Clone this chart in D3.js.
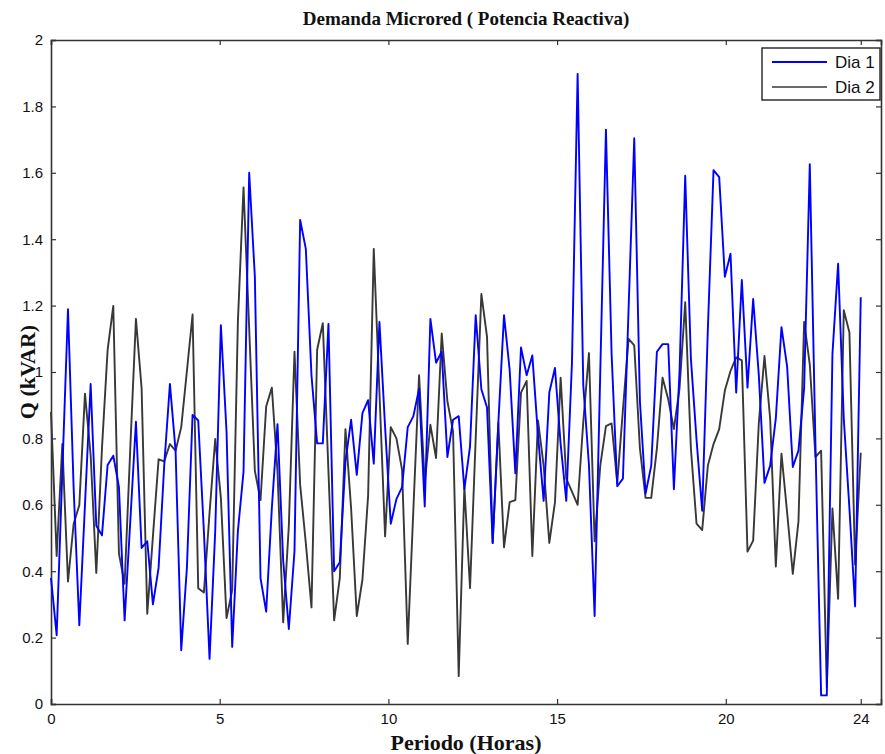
<!DOCTYPE html>
<html>
<head>
<meta charset="utf-8">
<script src="https://cdn.jsdelivr.net/npm/d3@7"></script>
<style>
body{margin:0;background:#fff;}
.axis text{font-family:"Liberation Sans",Arial,sans-serif;font-size:15px;fill:#111;}
.axis path,.axis line{stroke:#333;}
.label{font-family:"Liberation Serif","Times New Roman",serif;font-weight:bold;font-size:15px;fill:#111;}
</style>
</head>
<body>
<div id="chart"></div>
<script>
//tick labels
let xTicks=[0,5,10,15,20,24];
let yTicks=[0,0.2,0.4,0.6,0.8,1,1.2,1.4,1.6,1.8,2];
let seriesNames=[`Dia 1`,`Dia 2`];
//Q (kVAR) every step
let dia1=[0.38,0.207,0.70,1.189,0.65,0.237,0.60,0.964,0.537,0.508,
0.72,0.748,0.653,0.252,0.55,0.85,0.47,0.49,0.30,0.41,
0.72,0.964,0.763,0.162,0.41,0.871,0.854,0.52,0.136,0.52,
1.141,0.82,0.172,0.52,0.70,1.60,1.287,0.379,0.278,0.59,
0.843,0.433,0.226,0.46,1.458,1.371,0.99,0.785,0.785,1.145,
0.40,0.427,0.73,0.856,0.69,0.876,0.915,0.724,1.151,0.834,
0.543,0.617,0.653,0.834,0.867,0.95,0.595,1.16,1.028,1.061,
0.744,0.856,0.867,0.647,0.776,1.171,0.948,0.893,0.485,0.847,
1.171,1.006,0.695,1.074,0.99,1.05,0.81,0.612,0.938,1.012,
0.783,0.612,1.028,1.898,0.96,0.72,0.265,1.0,1.73,1.054,
0.656,0.679,1.19,1.704,0.912,0.634,0.718,1.061,1.084,1.084,
0.647,1.003,1.591,1.041,0.796,0.582,1.13,1.608,1.587,1.287,
1.356,0.938,1.277,0.953,1.22,0.99,0.666,0.718,0.86,1.135,
1.016,0.714,0.763,0.951,1.626,0.78,0.026,0.026,1.054,1.326,
0.86,0.589,0.294,1.225];
let dia2=[0.88,0.446,0.783,0.369,0.543,0.599,0.935,0.75,0.395,0.77,
1.067,1.199,0.453,0.362,0.77,1.16,0.951,0.272,0.505,0.737,
0.731,0.783,0.763,0.834,1.003,1.173,0.349,0.336,0.576,0.798,
0.621,0.259,0.343,1.15,1.556,1.13,0.702,0.614,0.896,0.953,
0.70,0.246,0.537,1.061,0.66,0.485,0.291,1.067,1.147,0.70,
0.252,0.379,0.828,0.589,0.265,0.375,0.627,1.371,0.94,0.505,
0.834,0.80,0.705,0.181,0.589,0.99,0.666,0.841,0.741,1.116,
0.912,0.821,0.084,0.653,0.349,0.80,1.235,1.106,0.485,0.847,
0.472,0.608,0.614,0.938,0.973,0.446,0.854,0.718,0.485,0.608,
0.983,0.679,0.64,0.60,0.85,1.057,0.49,0.718,0.837,0.845,
0.666,0.886,1.10,1.08,0.77,0.621,0.621,0.77,0.983,0.918,
0.828,0.951,1.21,0.77,0.543,0.524,0.718,0.783,0.828,0.944,
1.003,1.044,1.035,0.459,0.492,0.847,1.048,0.86,0.414,0.754,
0.576,0.392,0.55,1.151,1.022,0.744,0.763,0.05,0.589,0.317,
1.186,1.119,0.42,0.757];

let format={width:885,height:754,margin:{top:40,right:4,bottom:50,left:51}};
let width=format.width-format.margin.left-format.margin.right;
let height=format.height-format.margin.top-format.margin.bottom;

let svg=d3.select(`#chart`).append(`svg`)
    .attr(`width`,format.width)
    .attr(`height`,format.height);
let graph=svg.append(`g`)
    .attr(`transform`,`translate(${format.margin.left},${format.margin.top})`);

let x=d3.scaleLinear().domain([0,24.6]).range([0,width]);
let y=d3.scaleLinear().domain([0,2]).range([height,0]);

//time of each step, 0..24 h
let hours=dia1.map((d,i)=>i*24/(dia1.length-1));

//axes with inward ticks, mirrored on top and right
graph.append(`g`).attr(`class`,`axis`)
    .attr(`transform`,`translate(0,${height})`)
    .call(d3.axisBottom(x).tickValues(xTicks).tickSize(-5).tickPadding(9).tickFormat(d3.format(`d`)));
graph.append(`g`).attr(`class`,`axis`)
    .call(d3.axisTop(x).tickValues(xTicks).tickSize(-5).tickFormat(``));
graph.append(`g`).attr(`class`,`axis`)
    .call(d3.axisLeft(y).tickValues(yTicks).tickSize(-5).tickPadding(8).tickFormat(d=>d3.format(`~g`)(d)));
graph.append(`g`).attr(`class`,`axis`)
    .attr(`transform`,`translate(${width},0)`)
    .call(d3.axisRight(y).tickValues(yTicks).tickSize(-5).tickFormat(``));
graph.selectAll(`.axis path`).attr(`stroke-width`,1.6);
graph.selectAll(`.axis line`).attr(`stroke-width`,1.2);

let valueline=d3.line()
    .x((d,i)=>x(hours[i]))
    .y(d=>y(d));

graph.append(`path`).datum(dia2)
    .attr(`fill`,`none`).attr(`stroke`,`#383838`).attr(`stroke-width`,1.9)
    .attr(`stroke-linejoin`,`round`)
    .attr(`d`,valueline);
graph.append(`path`).datum(dia1)
    .attr(`fill`,`none`).attr(`stroke`,`#0000ff`).attr(`stroke-width`,1.9)
    .attr(`stroke-linejoin`,`round`)
    .attr(`d`,valueline);

//legend
let legend=graph.append(`g`).attr(`transform`,`translate(${width-119},8)`);
legend.append(`rect`).attr(`width`,118).attr(`height`,52)
    .attr(`fill`,`#fff`).attr(`stroke`,`#222`).attr(`stroke-width`,1.4);
let colors=[`#0000ff`,`#383838`];
seriesNames.forEach((name,i)=>{
    legend.append(`line`)
        .attr(`x1`,10).attr(`x2`,65)
        .attr(`y1`,14+i*25).attr(`y2`,14+i*25)
        .attr(`stroke`,colors[i]).attr(`stroke-width`,i==0?1.9:1.4);
    legend.append(`text`)
        .attr(`x`,73).attr(`y`,20+i*25)
        .style(`font-family`,`"Liberation Sans",Arial,sans-serif`)
        .style(`font-size`,`17px`).attr(`fill`,`#111`)
        .text(name);
});

//titles
svg.append(`text`).attr(`class`,`label`)
    .attr(`x`,format.margin.left+width/2).attr(`y`,25)
    .attr(`text-anchor`,`middle`).style(`font-size`,`19px`)
    .text(`Demanda Microred ( Potencia Reactiva)`);
svg.append(`text`).attr(`class`,`label`)
    .attr(`x`,format.margin.left+width/2).attr(`y`,750)
    .attr(`text-anchor`,`middle`).style(`font-size`,`22px`)
    .text(`Periodo (Horas)`);
svg.append(`text`).attr(`class`,`label`)
    .attr(`transform`,`translate(35,${format.margin.top+height/2}) rotate(-90)`)
    .attr(`text-anchor`,`middle`).style(`font-size`,`22px`)
    .text(`Q (kVAR)`);
</script>
</body>
</html>
